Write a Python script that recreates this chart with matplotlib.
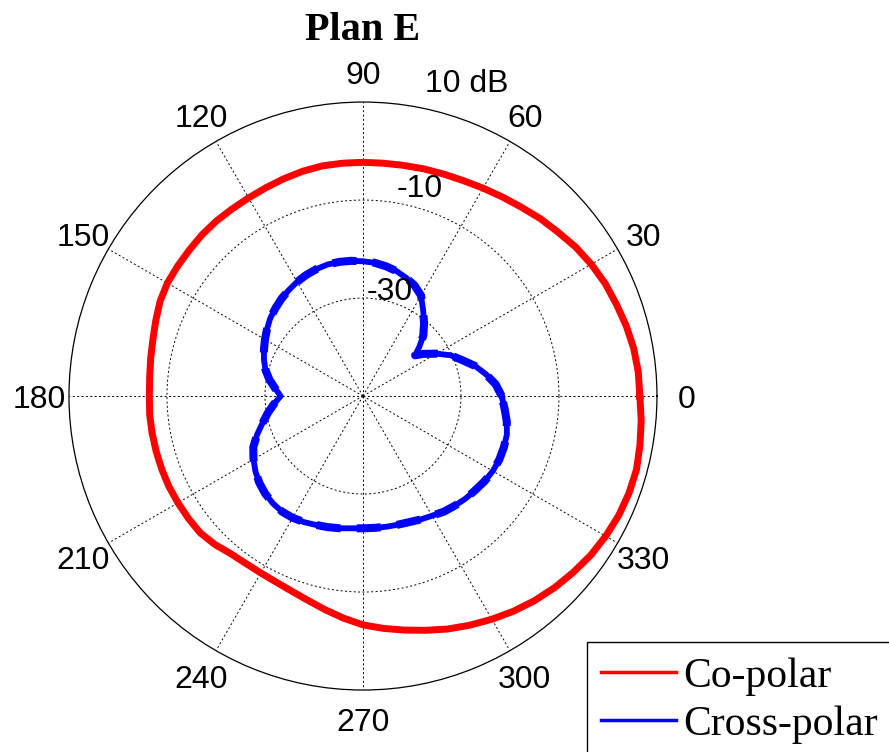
import numpy as np
import matplotlib.pyplot as plt
from matplotlib.lines import Line2D
from matplotlib.patches import Rectangle

# ── Radiation pattern (E-plane), gain in dB ─────────────
co_angle = np.arange(0, 360, 5)
co_gain = [6.5, 6.4, 6.1, 5.6, 5.0, 4.5, 3.8, 3.0, 2.0, 1.2,
           0.3, -0.4, -1.0, -1.5, -1.8, -2.0, -2.2, -2.3, -2.3, -2.3,
           -2.3, -2.5, -2.8, -3.1, -3.3, -3.4, -3.4, -3.5, -3.7, -3.8,
           -3.9, -4.3, -5.0, -5.6, -6.0, -6.3, -6.4, -6.3, -6.3, -6.3,
           -6.3, -6.3, -6.4, -6.5, -6.6, -7.2, -8.0, -8.3, -8.3, -8.1,
           -7.6, -6.8, -5.7, -4.5, -3.3, -2.4, -1.5, -0.5, 0.6, 1.6,
           2.6, 3.6, 4.5, 5.3, 6.0, 6.7, 7.2, 7.6, 7.8, 7.8,
           7.4, 7.0]

x_angle = [0, 5, 10, 15, 20, 25, 30, 35, 38, 41, 45, 50, 55, 60, 65, 70, 75,
           80, 85, 90, 95, 100, 105, 110, 115, 120, 125, 130, 135, 140, 145,
           150, 155, 160, 165, 170, 175, 180, 185, 190, 195, 200, 205, 210,
           215, 220, 225, 230, 235, 240, 245, 250, 255, 260, 265, 270, 275,
           280, 285, 290, 295, 300, 305, 310, 315, 320, 325, 330, 335, 340,
           345, 350, 355]
x_gain = [-21.7, -22.8, -24.5, -26.3, -28.5, -30.3, -32.7, -35.0, -36.5,
          -34.8, -32.6, -30.6, -28.6, -26.3, -25.1, -24.3, -23.6, -23.1,
          -22.7, -22.5, -22.3, -22.2, -22.2, -22.4, -22.7, -23.1, -23.6,
          -24.1, -24.7, -25.3, -26.1, -26.9, -27.7, -28.5, -29.4, -30.6,
          -32.0, -33.2, -31.8, -30.3, -28.8, -27.0, -25.3, -24.2, -23.2,
          -22.4, -21.8, -21.4, -21.2, -21.3, -21.6, -22.0, -22.3, -22.6,
          -22.9, -23.0, -23.0, -22.9, -22.8, -22.6, -22.2, -21.8, -21.2,
          -20.8, -20.4, -20.1, -19.7, -19.4, -19.3, -19.4, -19.6, -20.2,
          -21.0]

theta_ticks = list(range(0, 360, 30))
r_rings = [-30, -10]
r_labels = ['-30', '-10']


def closed(ang, val):
    t = np.deg2rad(np.append(ang, ang[0]))
    return t, np.append(val, val[0])


fig = plt.figure(figsize=(8.89, 7.52), dpi=100)
ax = fig.add_axes([0.0776, 0.0824, 0.6614, 0.7819], projection='polar')
ax.set_ylim(-50, 10)
ax.set_rgrids(r_rings, labels=['', ''])
ax.set_thetagrids(theta_ticks, labels=[''] * len(theta_ticks))
ax.grid(True, color='black', linestyle=(0, (2, 2.5)), linewidth=0.7)
ax.spines['polar'].set_linewidth(0.9)
ax.tick_params(length=0)

# co-polar: solid red
t, r = closed(co_angle, co_gain)
ax.plot(t, r, color='red', lw=5, solid_joinstyle='round')

# cross-polar: blue with a dashed overlay
t, r = closed(x_angle, x_gain)
ax.plot(t, r, color='blue', lw=4.2, solid_joinstyle='round')
ax.plot(t, r, color='blue', lw=5.8, linestyle=(0, (3, 2)))

# angle labels outside the circle
for a in theta_ticks:
    ax.text(np.deg2rad(a), 16, str(a), ha='center', va='center_baseline',
            fontsize=23, family='Liberation Sans', clip_on=False)

# ring labels
ax.text(np.deg2rad(78.5), 13.3, '10 dB', ha='left', va='baseline',
        fontsize=23, family='Liberation Sans', clip_on=False)
ax.text(np.deg2rad(80.3), -8.8, r_labels[1], ha='left', va='baseline',
        fontsize=23, family='Liberation Sans')
ax.text(np.deg2rad(87.6), -30.4, r_labels[0], ha='left', va='baseline',
        fontsize=23, family='Liberation Sans')

fig.text(363 / 889, 1 - 40 / 752, 'Plan E', ha='center', va='baseline',
         fontsize=29, fontweight='bold', family='Liberation Serif')

# legend box runs off the right and bottom edges
fig.add_artist(Rectangle((587 / 889, -0.05), 0.5, 0.05 + 110 / 752,
                         transform=fig.transFigure, facecolor='white',
                         edgecolor='black', lw=1.0))
handles = [Line2D([], [], color='red', lw=2.5),
           Line2D([], [], color='blue', lw=2.5)]
leg = fig.legend(handles, ['Co-polar', 'Cross-polar'], loc='upper left',
                 bbox_to_anchor=(601 / 889, 1 - 657 / 752),
                 prop=dict(family='Liberation Serif', size=30),
                 frameon=False, handlelength=1.8, handletextpad=0.17,
                 borderpad=0, labelspacing=0.24, borderaxespad=0)

fig.savefig('out.png', dpi=100)
